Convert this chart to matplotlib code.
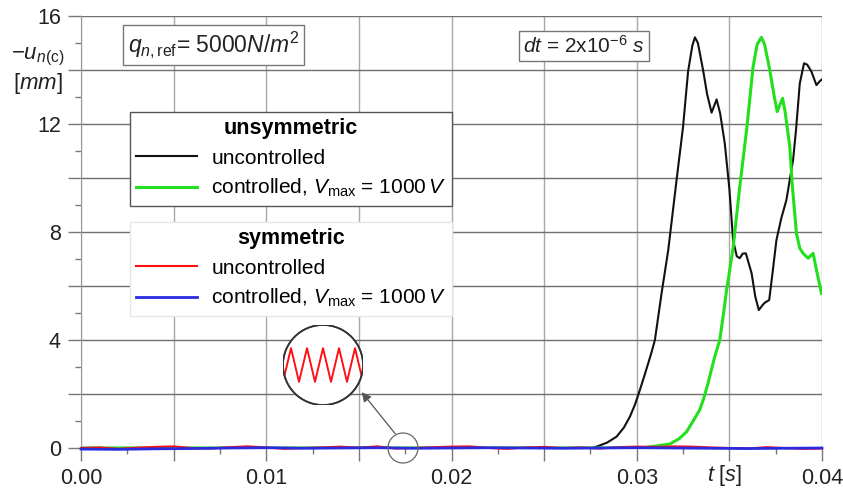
import numpy as np
import matplotlib
matplotlib.use("Agg")
import matplotlib.pyplot as plt
from matplotlib.patches import Circle, Ellipse
from matplotlib.ticker import MultipleLocator, FuncFormatter

plt.rcParams['font.family'] = ['Liberation Sans', 'DejaVu Sans']
plt.rcParams['mathtext.fontset'] = 'custom'
plt.rcParams['mathtext.rm'] = 'Liberation Sans'
plt.rcParams['mathtext.it'] = 'Liberation Sans:italic'
plt.rcParams['mathtext.bf'] = 'Liberation Sans:bold'

# unsymmetric, uncontrolled (black)
black_t = [0.0, 0.0276, 0.02783, 0.0284, 0.02891, 0.0293, 0.02963, 0.0299, 0.03017,
           0.0304, 0.03062, 0.0308, 0.03098, 0.03134, 0.0317, 0.03215, 0.0325,
           0.03277, 0.0330, 0.03314, 0.0333, 0.03358, 0.0338, 0.03404, 0.03431,
           0.0345, 0.03475, 0.0350, 0.0352, 0.0354, 0.03556, 0.03572, 0.03589,
           0.0362, 0.0364, 0.03659, 0.0368, 0.03691, 0.03715, 0.03735, 0.03754,
           0.0378, 0.03808, 0.03844, 0.0386, 0.0388, 0.03903, 0.0392, 0.03943,
           0.0397, 0.0399, 0.0400]
black_u = [0.0, 0.0, 0.05, 0.2, 0.42, 0.75, 1.16, 1.6, 2.15,
           2.65, 3.14, 3.55, 4.0, 5.73, 7.33, 9.93, 11.9,
           13.94, 14.9, 15.21, 15.0, 14.0, 13.1, 12.42, 12.91,
           12.4, 11.29, 9.6, 7.7, 7.1, 7.03, 7.2, 7.21,
           6.47, 5.6, 5.11, 5.3, 5.38, 5.48, 6.6, 7.7,
           8.5, 9.19, 10.67, 11.8, 13.5, 14.25, 14.2, 13.94,
           13.44, 13.6, 13.65]

# unsymmetric, controlled (green)
green_t = [0.0, 0.0303, 0.0318, 0.0323, 0.03269, 0.0330, 0.0334, 0.03362, 0.03385,
           0.03403, 0.03421, 0.03448, 0.03466, 0.03485, 0.0352, 0.03556, 0.03593,
           0.03628, 0.0365, 0.03673, 0.0369, 0.03718, 0.0374, 0.03758, 0.03787,
           0.0380, 0.03826, 0.0384, 0.03862, 0.0388, 0.03898, 0.03925, 0.03952,
           0.0397, 0.03997]
green_u = [0.0, 0.0, 0.15, 0.35, 0.6, 0.95, 1.41, 1.85, 2.4,
           2.9, 3.38, 4.0, 4.86, 5.85, 7.4, 9.68, 11.78,
           14.12, 14.95, 15.21, 14.95, 14.0, 13.1, 12.46, 12.95,
           12.5, 11.16, 9.7, 7.95, 7.4, 7.21, 7.03, 7.21,
           6.6, 5.73]

# symmetric cases stay near zero
sym_t = np.linspace(0.0, 0.04, 41)
red_u = [0.0, 0.02, -0.03, 0.01, 0.04, 0.06, 0.0, -0.02, 0.03, 0.06,
         0.02, -0.03, 0.0, 0.02, 0.05, 0.01, 0.06, -0.02, 0.0, 0.03,
         0.05, 0.06, 0.0, -0.03, 0.02, 0.04, 0.0, 0.02, -0.02, 0.03,
         0.05, 0.04, 0.06, 0.05, 0.02, 0.0, -0.02, 0.03, 0.0, -0.03, -0.02]
blue_t = np.linspace(0.0, 0.04, 21)
blue_u = [-0.04, -0.05, -0.03, -0.02, 0.0, 0.01, -0.01, 0.0, 0.01, -0.01,
          0.0, 0.01, 0.0, -0.01, 0.0, 0.01, 0.0, -0.01, -0.02, -0.01, 0.0]

# magnified zig-zag of the red curve (inset)
zoom_x = np.linspace(0.0, 1.0, 11)
zoom_y = [0.29, 0.71, 0.29, 0.71, 0.29, 0.71, 0.29, 0.71, 0.29, 0.71, 0.29]

W, H = 843, 496
fig = plt.figure(figsize=(W / 100, H / 100), dpi=100)
ax = fig.add_axes([81 / W, 1 - 448 / H, (822 - 81) / W, (448 - 16) / H])

l_black, = ax.plot(black_t, black_u, color='#111111', lw=1.5, zorder=3)
l_green, = ax.plot(green_t, green_u, color='#22e01e', lw=2.2, zorder=3)
l_red, = ax.plot(sym_t, red_u, color='#ff1010', lw=1.5, zorder=4, clip_on=False)
l_blue, = ax.plot(blue_t, blue_u, color='#2a2ae0', lw=2.0, zorder=5, clip_on=False)

ax.set_xlim(0, 0.04)
ax.set_ylim(0, 16)

# ticks and grid
ax.xaxis.set_major_locator(MultipleLocator(0.005))
ax.xaxis.set_minor_locator(MultipleLocator(0.0025))
ax.xaxis.set_major_formatter(FuncFormatter(
    lambda v, p: f"{v:.2f}" if abs(round(v / 0.01) * 0.01 - v) < 1e-6 else ""))
ax.yaxis.set_major_locator(MultipleLocator(2))
ax.yaxis.set_minor_locator(MultipleLocator(1))
ax.yaxis.set_major_formatter(FuncFormatter(
    lambda v, p: f"{v:.0f}" if round(v) % 4 == 0 else ""))
ax.tick_params(axis='both', which='major', direction='out', length=9.5, width=1,
               color='#777777', labelsize=15.5, labelcolor='#222222', pad=5)
ax.tick_params(axis='both', which='minor', direction='out', length=4, width=1,
               color='#777777')
ax.grid(axis='y', which='major', color='#707070', lw=1.0)
ax.grid(axis='x', which='major', color='#a8a8a8', lw=1.0)
ax.set_axisbelow(True)
for s in ['top', 'right', 'bottom']:
    ax.spines[s].set_visible(False)
ax.spines['left'].set_color('#999999')

# axis labels
fig.text(38 / W, 1 - 57 / H, r'$-u_{n(\mathrm{c})}$', fontsize=16, color='#222222',
         ha='center', va='center')
fig.text(38 / W, 1 - 84 / H, r'[$mm$]', fontsize=16, color='#222222',
         ha='center', va='center')
fig.text(725 / W, 1 - 476 / H, r'$t$ [$s$]', fontsize=15.5, color='#222222',
         ha='center', va='center')

# parameter boxes
box = dict(boxstyle='square,pad=0.2', facecolor='white', edgecolor='#777777', lw=1)
fig.text(128 / W, 1 - 45 / H, r'$q_{n,\mathrm{ref}}$= 5000$N/m^2$', fontsize=16.5,
         color='#222222', ha='left', va='center', bbox=box)
fig.text(523 / W, 1 - 46 / H, r'$dt$ = 2x10$^{-6}$ $s$', fontsize=15,
         color='#222222', ha='left', va='center', bbox=box)

# legends
lab_u = 'uncontrolled'
lab_c = r'controlled, $V_{\mathrm{max}}$ = 1000$\,V$'
common = dict(fontsize=15, loc='upper left', bbox_transform=fig.transFigure,
              borderaxespad=0, fancybox=False, framealpha=1, handlelength=2.9,
              handletextpad=0.7, labelspacing=0.45, borderpad=0.3,
              title_fontproperties={'weight': 'bold', 'size': 15.5})
leg1 = ax.legend([l_black, l_green], [lab_u, lab_c], title='unsymmetric',
                 bbox_to_anchor=(130 / W, 1 - 112 / H), edgecolor='#555555', **common)
leg1.get_frame().set_linewidth(1.0)
ax.add_artist(leg1)
leg2 = ax.legend([l_red, l_blue], [lab_u, lab_c], title='symmetric',
                 bbox_to_anchor=(130 / W, 1 - 222 / H), edgecolor='#e6e6e6', **common)
leg2.get_frame().set_linewidth(1.0)

# small circle on the curve + arrow to magnified view
ax.add_patch(Ellipse((0.01738, 0.0), 30 / 18530, 30 / 27, fill=False,
                     edgecolor='#666666', lw=0.9, clip_on=False, zorder=6))
ax.annotate('', xy=(360, H - 390), xytext=(397, H - 436),
            xycoords='figure pixels', textcoords='figure pixels',
            arrowprops=dict(arrowstyle='-|>', color='#555555', lw=0.9,
                            mutation_scale=14))

ax_in = fig.add_axes([283 / W, 1 - 405 / H, 80 / W, 80 / H])
ax_in.set_xlim(0, 1)
ax_in.set_ylim(0, 1)
ax_in.axis('off')
circ = Circle((0.5, 0.5), 0.5, transform=ax_in.transAxes, facecolor='white',
              edgecolor='#333333', lw=1.2, zorder=1)
ax_in.add_patch(circ)
zz, = ax_in.plot(zoom_x, zoom_y, color='#ff1010', lw=1.4, zorder=2)
zz.set_clip_path(circ)
ax_in.add_patch(Circle((0.5, 0.5), 0.5, transform=ax_in.transAxes, fill=False,
                       edgecolor='#333333', lw=1.2, zorder=3))

fig.savefig('out.png', dpi=100)
